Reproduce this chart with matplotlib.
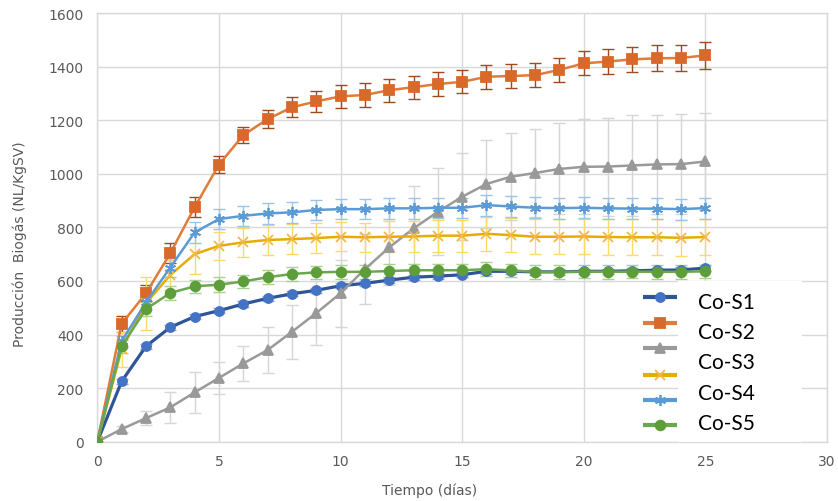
"""
Producción de biogás acumulada (NL/KgSV) para las co-digestiones Co-S1..Co-S5.

Saves: out.png
"""

import matplotlib
matplotlib.use("Agg")
import matplotlib.pyplot as plt
from matplotlib.lines import Line2D
from matplotlib.patches import Rectangle

# ---------------------------------------------------------------------------
# Data
# ---------------------------------------------------------------------------

dias = list(range(26))

co_s1 = [0, 225, 356, 427, 467, 489, 514, 535, 552, 565, 582, 591, 603, 614, 618,
         623, 636, 636, 634, 634, 636, 636, 638, 640, 641, 648]
co_s1_err = [0, 10, 10, 10, 10, 10, 10, 10, 10, 10, 10, 10, 10, 10, 10,
             10, 10, 10, 10, 10, 10, 10, 10, 10, 10, 10]

co_s2 = [0, 440, 554, 703, 875, 1034, 1144, 1204, 1248, 1270, 1289, 1294, 1312, 1323,
         1335, 1343, 1362, 1365, 1368, 1388, 1412, 1419, 1427, 1431, 1432, 1442]
co_s2_err = [0, 30, 30, 37, 37, 32, 30, 33, 37, 40, 43, 43, 43, 43, 43,
             43, 45, 45, 45, 45, 45, 47, 47, 48, 48, 51]

co_s3 = [0, 47, 88, 128, 184, 238, 292, 342, 410, 480, 554, 644, 725, 796, 858,
         914, 962, 989, 1003, 1018, 1026, 1027, 1031, 1035, 1036, 1046]
co_s3_err = [0, 10, 27, 58, 76, 60, 66, 86, 100, 118, 125, 130, 140, 157, 162,
             163, 165, 162, 164, 170, 178, 183, 188, 184, 187, 180]

co_s4a = [0, 345, 517, 622, 700, 731, 744, 753, 756, 760, 765, 763, 765, 766, 769,
          769, 776, 771, 765, 765, 766, 764, 763, 763, 761, 764]
co_s4a_err = [0, 65, 99, 55, 75, 51, 55, 55, 55, 55, 55, 55, 58, 58, 60,
              60, 63, 63, 65, 65, 65, 67, 67, 68, 68, 69]

co_s4b = [0, 375, 520, 650, 781, 831, 843, 852, 856, 865, 868, 868, 871, 871, 873,
          873, 883, 878, 873, 872, 873, 871, 870, 870, 868, 872]
co_s4b_err = [0, 20, 30, 35, 40, 37, 37, 38, 38, 38, 38, 38, 38, 38, 38,
              38, 39, 39, 39, 39, 39, 39, 39, 39, 39, 39]

co_s5 = [0, 356, 495, 555, 580, 586, 598, 614, 626, 632, 634, 634, 637, 640, 640,
         640, 644, 639, 634, 634, 635, 634, 635, 634, 634, 636]
co_s5_err = [0, 25, 25, 25, 25, 28, 25, 25, 25, 25, 25, 25, 25, 25, 25,
             25, 25, 25, 25, 25, 25, 25, 25, 25, 25, 25]

etiquetas = ["Co-S1", "Co-S2", "Co-S3", "Co-S4", "Co-S5"]

# ---------------------------------------------------------------------------
# Styles: (values, errors, line colour, marker colour, error colour, marker, ms, lw)
# ---------------------------------------------------------------------------

series = [
    (co_s1,  co_s1_err,  "#2f5597", "#4472c4", "#8faadc", "o", 6.5, 2.3),
    (co_s2,  co_s2_err,  "#e07b39", "#d8692b", "#9c4a1e", "s", 7.0, 1.8),
    (co_s3,  co_s3_err,  "#9a9a9a", "#999999", "#d6d6d6", "^", 7.0, 1.8),
    (co_s4a, co_s4a_err, "#e6ac00", "#f2b84b", "#ffd966", "x", 7.0, 1.8),
    (co_s4b, co_s4b_err, "#5b9bd5", "#5b9bd5", "#9dc3e6", (6, 2, 0), 8.0, 1.8),
    (co_s5,  co_s5_err,  "#6aa84f", "#5e9e3a", "#a9d18e", "o", 7.0, 1.8),
]

TICK_COLOR = "#595959"
GRID_COLOR = "#d9d9d9"

# legend layout (axes fraction): key rows and label rows are spaced differently
KEY_X0, KEY_X1 = 0.748, 0.795
KEY_Y = [0.337, 0.278, 0.218, 0.156, 0.098, 0.039]
TXT_X = 0.823
TXT_Y = [0.325, 0.255, 0.185, 0.113, 0.044]


def main():
    fig = plt.figure(figsize=(8.38, 5.02), dpi=100)
    ax = fig.add_axes([0.1161, 0.1181, 0.8708, 0.8540])

    # error bars first so every line sits on top of them
    for vals, err, lc, mc, ec, mk, ms, lw in series:
        ax.errorbar(dias, vals, yerr=err, fmt="none", ecolor=ec,
                    elinewidth=1.0, capsize=4, capthick=1.0, zorder=2)

    for vals, err, lc, mc, ec, mk, ms, lw in series:
        ax.plot(dias, vals, color=lc, lw=lw, marker=mk, ms=ms,
                markerfacecolor=mc, markeredgecolor=mc,
                markeredgewidth=1.3, zorder=3)

    ax.set_xlim(0, 30)
    ax.set_ylim(0, 1600)
    ax.set_xticks(range(0, 31, 5))
    ax.set_yticks(range(0, 1601, 200))
    ax.tick_params(length=0, labelsize=10, colors=TICK_COLOR)
    ax.tick_params(axis="x", pad=9)
    ax.tick_params(axis="y", pad=10)
    ax.grid(True, color=GRID_COLOR, lw=1.0, zorder=0)
    ax.set_axisbelow(True)
    for sp in ax.spines.values():
        sp.set_color(GRID_COLOR)
        sp.set_linewidth(1.0)

    ax.set_xlabel("Tiempo (días)", fontsize=10, color=TICK_COLOR)
    ax.xaxis.set_label_coords(0.456, -0.094)
    ax.set_ylabel("Producción  Biogás (NL/KgSV)", fontsize=10, color=TICK_COLOR)
    ax.yaxis.set_label_coords(-0.096, 0.463)

    # --- legend, drawn by hand -------------------------------------------
    ax.add_patch(Rectangle((0.796, 0.0), 0.170, 0.375, transform=ax.transAxes,
                           facecolor="white", edgecolor="none", zorder=4,
                           clip_on=False))

    for (vals, err, lc, mc, ec, mk, ms, lw), ky in zip(series, KEY_Y):
        ax.add_line(Line2D([KEY_X0, KEY_X1], [ky, ky], transform=ax.transAxes,
                           color=lc, lw=3.0, solid_capstyle="butt", zorder=5))
        ax.add_line(Line2D([(KEY_X0 + KEY_X1) / 2], [ky], transform=ax.transAxes,
                           ls="none", marker=mk, ms=ms, markerfacecolor=mc,
                           markeredgecolor=mc, markeredgewidth=1.3, zorder=5))

    for txt, ty in zip(etiquetas, TXT_Y):
        ax.text(TXT_X, ty, txt, transform=ax.transAxes, fontsize=15,
                family=["Lato", "DejaVu Sans"], color="black",
                va="center", ha="left", zorder=6)

    fig.savefig("out.png", dpi=100)


if __name__ == "__main__":
    main()
